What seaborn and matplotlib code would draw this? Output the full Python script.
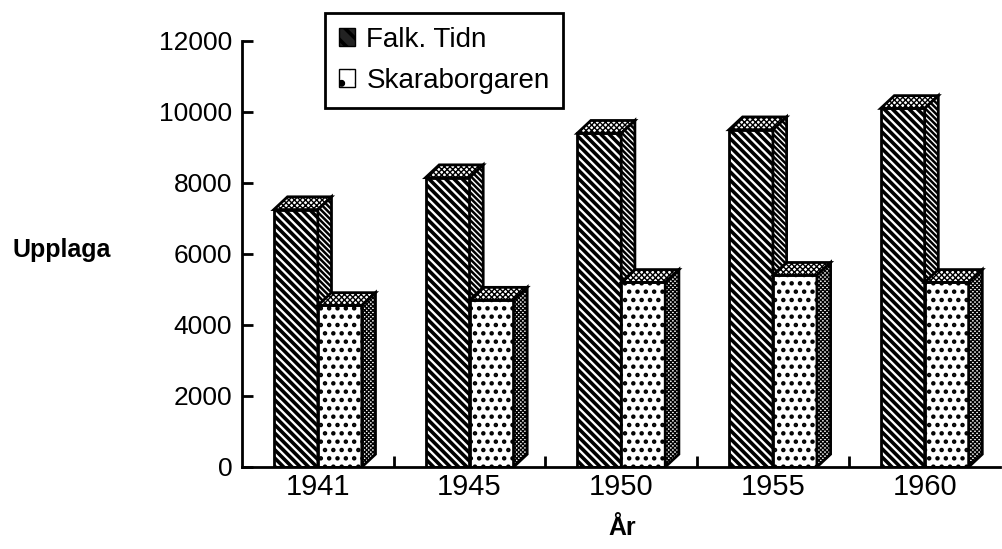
import matplotlib
matplotlib.use('Agg')
import matplotlib.pyplot as plt
from matplotlib.patches import Polygon, Patch
import pandas as pd
import seaborn as sns

# data
years = ['1941', '1945', '1950', '1955', '1960']
falk = [7250, 8150, 9400, 9500, 10100]
skara = [4550, 4700, 5200, 5400, 5200]
papers = ['Falk. Tidn', 'Skaraborgaren']

df = pd.DataFrame({
    'year': years * 2,
    'upplaga': falk + skara,
    'tidning': [papers[0]] * len(years) + [papers[1]] * len(years),
})

sns.set_style('ticks')
plt.rcParams['font.family'] = ['Liberation Sans', 'DejaVu Sans']
plt.rcParams['text.color'] = 'black'
plt.rcParams['xtick.color'] = 'black'
plt.rcParams['ytick.color'] = 'black'
plt.rcParams['xtick.labelcolor'] = 'black'
plt.rcParams['ytick.labelcolor'] = 'black'
plt.rcParams['axes.edgecolor'] = 'black'
plt.rcParams['ytick.direction'] = 'in'
plt.rcParams['hatch.linewidth'] = 2.6

fig = plt.figure(figsize=(10.02, 5.49), dpi=100)
ax = fig.add_axes([0.2415, 0.1494, 0.757, 0.776])

sns.barplot(data=df, x='year', y='upplaga', hue='tidning', hue_order=papers,
            width=0.58, gap=0, palette=['white', 'white'], edgecolor='black',
            linewidth=2, legend=False, ax=ax)

# fake 3d depth (in data units)
dx, dy = 0.09, 360
front_hatch = ['\\\\\\\\', '..']
front_lw = [2.6, 2.0]
top_hatch = ['xxxxxx', 'xxxxxx']
side_hatch = ['\\\\\\\\\\\\', 'xxxxxxxx']
side_lw = [1.8, 1.0]


def set_hlw(p, w):
    if hasattr(p, 'set_hatch_linewidth'):
        p.set_hatch_linewidth(w)


for i, cont in enumerate(ax.containers):
    z = 2 + i
    for bar in cont:
        bar.set_hatch(front_hatch[i])
        bar.set_zorder(z)
        set_hlw(bar, front_lw[i])
        x0 = bar.get_x()
        x1 = x0 + bar.get_width()
        h = bar.get_height()
        top = Polygon([(x0, h), (x0 + dx, h + dy), (x1 + dx, h + dy), (x1, h)],
                      closed=True, facecolor='white', edgecolor='black',
                      linewidth=2, hatch=top_hatch[i], zorder=z + 0.1)
        side = Polygon([(x1, 0), (x1 + dx, dy), (x1 + dx, h + dy), (x1, h)],
                       closed=True, facecolor='white', edgecolor='black',
                       linewidth=2, hatch=side_hatch[i], zorder=z + 0.1)
        set_hlw(top, 1.0)
        set_hlw(side, side_lw[i])
        ax.add_patch(top)
        ax.add_patch(side)

ax.set_xlim(-0.5, 4.5)
ax.set_ylim(0, 12000)
ax.set_yticks(range(0, 12001, 2000))
ax.set_xticks([k - 0.5 for k in range(1, 5)], minor=True)
ax.tick_params(axis='y', direction='in', length=8, width=2, labelsize=19, pad=7,
               colors='black')
ax.tick_params(axis='x', which='major', length=0, pad=4, labelsize=21,
               colors='black')
ax.tick_params(axis='x', which='minor', direction='in', length=8, width=2,
               colors='black')
ax.set_xlabel('')
ax.set_ylabel('')

sns.despine(ax=ax)
for s in ['left', 'bottom']:
    ax.spines[s].set_linewidth(2)
    ax.spines[s].set_color('black')
    ax.spines[s].set_zorder(6)

fig.text(13 / 1002, 0.545, 'Upplaga', fontsize=18, fontweight='bold',
         ha='left', va='center', color='black')
fig.text(0.621, 1 - 528 / 549, 'År', fontsize=18, fontweight='bold',
         ha='center', va='center', color='black')

handles = [Patch(facecolor='#222222', edgecolor='black', hatch='\\\\'),
           Patch(facecolor='white', edgecolor='black', hatch='.')]
leg = ax.legend(handles, papers, loc='upper left', bbox_to_anchor=(0.109, 1.066),
                fontsize=20, frameon=True, fancybox=False, edgecolor='black',
                framealpha=1, handlelength=0.6, handleheight=0.6,
                handletextpad=0.4, labelspacing=0.55, borderpad=0.5,
                borderaxespad=0)
leg.get_frame().set_linewidth(2)
leg.set_zorder(10)
for t in leg.get_texts():
    t.set_color('black')

fig.savefig('out.png', dpi=100)
